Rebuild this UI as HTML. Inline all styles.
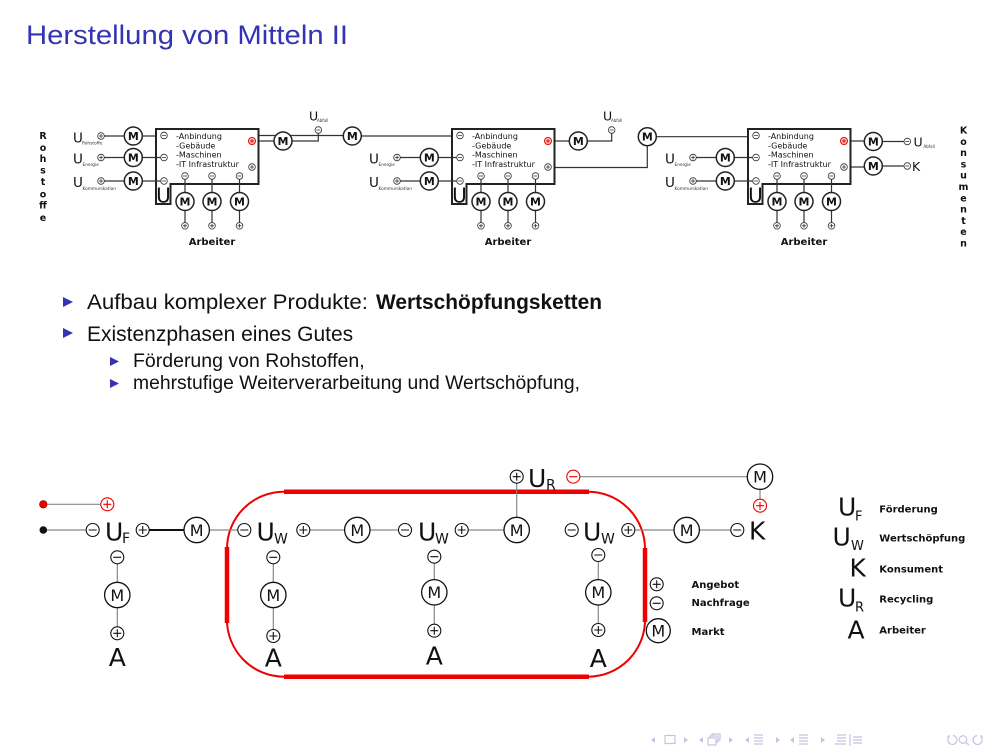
<!DOCTYPE html>
<html>
<head>
<meta charset="utf-8">
<style>
html,body{margin:0;padding:0;background:#fff;}
svg{display:block;}
.d{font-family:"DejaVu Sans","Liberation Sans",sans-serif;}
.l{font-family:"Liberation Sans",sans-serif;}
</style>
</head>
<body>
<svg width="1008" height="756" viewBox="0 0 1008 756" xmlns="http://www.w3.org/2000/svg">
<rect width="1008" height="756" fill="#fff"/>

<!-- Title -->
<text class="l" x="26" y="44" font-size="27" fill="#3333b3" textLength="322" lengthAdjust="spacingAndGlyphs">Herstellung von Mitteln II</text>

<!-- ================= TOP DIAGRAM ================= -->
<g class="d" fill="#111">
<g font-size="9.5" font-weight="bold" text-anchor="middle">
<text x="43" y="139">R</text><text x="43" y="151">o</text><text x="43" y="162">h</text><text x="43" y="173.5">s</text><text x="43" y="185">t</text><text x="43" y="197.5">o</text><text x="43" y="208.5">ff</text><text x="43" y="221">e</text>
</g>
<g font-size="9.5" font-weight="bold" text-anchor="middle">
<text x="963.5" y="133.5">K</text><text x="963.5" y="144.8">o</text><text x="963.5" y="156.1">n</text><text x="963.5" y="167.4">s</text><text x="963.5" y="178.7">u</text><text x="963.5" y="190">m</text><text x="963.5" y="201.3">e</text><text x="963.5" y="212.6">n</text><text x="963.5" y="223.9">t</text><text x="963.5" y="235.2">e</text><text x="963.5" y="246.5">n</text>
</g>
</g>

<g fill="none" stroke="#333" stroke-width="1.2">
<path d="M104.3,136 H124.3 M142.3,136 H160.7"/>
<path d="M255.3,141 H274"/>
<path d="M292,141 H318.3 V133.3"/>
<path d="M255.3,167 H256 V135.5 H343.3"/>
<path d="M361.3,136 H456.7"/>
<path d="M551.3,141 H569.3"/>
<path d="M587.3,141 H611.7 V133.3"/>
<path d="M551.3,167.5 H647.3 V145.7"/>
<path d="M656.3,136.7 H752.7"/>
<path d="M847.3,141 H864.3 M882.3,141.5 H904"/>
<path d="M847.3,167 H864.3 M882.3,166 H904"/>
</g>

<g class="d">
  <path d="M156,129 H258.5 V184 H170.5 V204 H156 Z" fill="#fff" stroke="#222" stroke-width="2"/>
  <text x="163.5" y="202.5" font-size="20" text-anchor="middle" fill="#111">U</text>
  <g font-size="8" fill="#111">
    <text x="176" y="139">-Anbindung</text>
    <text x="176" y="148.5">-Gebäude</text>
    <text x="176" y="157.5">-Maschinen</text>
    <text x="176" y="167">-IT Infrastruktur</text>
  </g>
  <g fill="#fff" stroke="#333" stroke-width="0.8">
    <circle cx="164" cy="135.5" r="3.3"/><circle cx="164" cy="157.5" r="3.3"/><circle cx="164" cy="181" r="3.3"/>
    <circle cx="252" cy="167" r="3.3"/>
    <circle cx="185" cy="176" r="3.3"/><circle cx="212" cy="176" r="3.3"/><circle cx="239.5" cy="176" r="3.3"/>
    <circle cx="185" cy="225.8" r="3.3"/><circle cx="212" cy="225.8" r="3.3"/><circle cx="239.5" cy="225.8" r="3.3"/>
    <circle cx="101" cy="157.5" r="3.3"/><circle cx="101" cy="181" r="3.3"/>
  </g>
  <circle cx="252" cy="141" r="3.5" fill="#fcc" stroke="#e00" stroke-width="1"/>
  <path d="M250,141h4M252,139v4" stroke="#d00" stroke-width="0.9"/>
  <path d="M162,135.5h4M162,157.5h4M162,181h4 M183,176h4M210,176h4M237.5,176h4 M183,225.8h4M185,223.8v4 M210,225.8h4M212,223.8v4 M237.5,225.8h4M239.5,223.8v4 M250,167h4M252,165v4 M99,157.5h4M101,155.5v4 M99,181h4M101,179v4" stroke="#333" stroke-width="0.8" fill="none"/>
  <path d="M185,179.3V192.5 M185,210.5V222.5 M212,179.3V192.5 M212,210.5V222.5 M239.5,179.3V192.5 M239.5,210.5V222.5 M104.3,157.5H124.3 M142.3,157.5H160.7 M104.3,181H124.3 M142.3,181H160.7" stroke="#333" stroke-width="1.2" fill="none"/>
  <g fill="#fff" stroke="#222" stroke-width="1.5">
    <circle cx="185" cy="201.5" r="9"/><circle cx="212" cy="201.5" r="9"/><circle cx="239.5" cy="201.5" r="9"/>
    <circle cx="133.3" cy="157.5" r="9"/><circle cx="133.3" cy="181" r="9"/>
  </g>
  <g font-size="11" font-weight="bold" text-anchor="middle" fill="#111">
    <text x="185" y="205.5">M</text><text x="212" y="205.5">M</text><text x="239.5" y="205.5">M</text>
    <text x="133.3" y="161.5">M</text><text x="133.3" y="185">M</text>
  </g>
  <text x="212" y="245" font-size="10" font-weight="bold" text-anchor="middle" fill="#111">Arbeiter</text>
  <text x="73" y="163.5" font-size="13.5" fill="#111">U</text><text x="82.5" y="166" font-size="4.3" fill="#333">Energie</text>
  <text x="73" y="187" font-size="13.5" fill="#111">U</text><text x="82.5" y="190" font-size="4.3" fill="#333">Kommunikation</text>
</g>
<g transform="translate(296,0)" class="d">
  <path d="M156,129 H258.5 V184 H170.5 V204 H156 Z" fill="#fff" stroke="#222" stroke-width="2"/>
  <text x="163.5" y="202.5" font-size="20" text-anchor="middle" fill="#111">U</text>
  <g font-size="8" fill="#111">
    <text x="176" y="139">-Anbindung</text>
    <text x="176" y="148.5">-Gebäude</text>
    <text x="176" y="157.5">-Maschinen</text>
    <text x="176" y="167">-IT Infrastruktur</text>
  </g>
  <g fill="#fff" stroke="#333" stroke-width="0.8">
    <circle cx="164" cy="135.5" r="3.3"/><circle cx="164" cy="157.5" r="3.3"/><circle cx="164" cy="181" r="3.3"/>
    <circle cx="252" cy="167" r="3.3"/>
    <circle cx="185" cy="176" r="3.3"/><circle cx="212" cy="176" r="3.3"/><circle cx="239.5" cy="176" r="3.3"/>
    <circle cx="185" cy="225.8" r="3.3"/><circle cx="212" cy="225.8" r="3.3"/><circle cx="239.5" cy="225.8" r="3.3"/>
    <circle cx="101" cy="157.5" r="3.3"/><circle cx="101" cy="181" r="3.3"/>
  </g>
  <circle cx="252" cy="141" r="3.5" fill="#fcc" stroke="#e00" stroke-width="1"/>
  <path d="M250,141h4M252,139v4" stroke="#d00" stroke-width="0.9"/>
  <path d="M162,135.5h4M162,157.5h4M162,181h4 M183,176h4M210,176h4M237.5,176h4 M183,225.8h4M185,223.8v4 M210,225.8h4M212,223.8v4 M237.5,225.8h4M239.5,223.8v4 M250,167h4M252,165v4 M99,157.5h4M101,155.5v4 M99,181h4M101,179v4" stroke="#333" stroke-width="0.8" fill="none"/>
  <path d="M185,179.3V192.5 M185,210.5V222.5 M212,179.3V192.5 M212,210.5V222.5 M239.5,179.3V192.5 M239.5,210.5V222.5 M104.3,157.5H124.3 M142.3,157.5H160.7 M104.3,181H124.3 M142.3,181H160.7" stroke="#333" stroke-width="1.2" fill="none"/>
  <g fill="#fff" stroke="#222" stroke-width="1.5">
    <circle cx="185" cy="201.5" r="9"/><circle cx="212" cy="201.5" r="9"/><circle cx="239.5" cy="201.5" r="9"/>
    <circle cx="133.3" cy="157.5" r="9"/><circle cx="133.3" cy="181" r="9"/>
  </g>
  <g font-size="11" font-weight="bold" text-anchor="middle" fill="#111">
    <text x="185" y="205.5">M</text><text x="212" y="205.5">M</text><text x="239.5" y="205.5">M</text>
    <text x="133.3" y="161.5">M</text><text x="133.3" y="185">M</text>
  </g>
  <text x="212" y="245" font-size="10" font-weight="bold" text-anchor="middle" fill="#111">Arbeiter</text>
  <text x="73" y="163.5" font-size="13.5" fill="#111">U</text><text x="82.5" y="166" font-size="4.3" fill="#333">Energie</text>
  <text x="73" y="187" font-size="13.5" fill="#111">U</text><text x="82.5" y="190" font-size="4.3" fill="#333">Kommunikation</text>
</g>
<g transform="translate(592,0)" class="d">
  <path d="M156,129 H258.5 V184 H170.5 V204 H156 Z" fill="#fff" stroke="#222" stroke-width="2"/>
  <text x="163.5" y="202.5" font-size="20" text-anchor="middle" fill="#111">U</text>
  <g font-size="8" fill="#111">
    <text x="176" y="139">-Anbindung</text>
    <text x="176" y="148.5">-Gebäude</text>
    <text x="176" y="157.5">-Maschinen</text>
    <text x="176" y="167">-IT Infrastruktur</text>
  </g>
  <g fill="#fff" stroke="#333" stroke-width="0.8">
    <circle cx="164" cy="135.5" r="3.3"/><circle cx="164" cy="157.5" r="3.3"/><circle cx="164" cy="181" r="3.3"/>
    <circle cx="252" cy="167" r="3.3"/>
    <circle cx="185" cy="176" r="3.3"/><circle cx="212" cy="176" r="3.3"/><circle cx="239.5" cy="176" r="3.3"/>
    <circle cx="185" cy="225.8" r="3.3"/><circle cx="212" cy="225.8" r="3.3"/><circle cx="239.5" cy="225.8" r="3.3"/>
    <circle cx="101" cy="157.5" r="3.3"/><circle cx="101" cy="181" r="3.3"/>
  </g>
  <circle cx="252" cy="141" r="3.5" fill="#fcc" stroke="#e00" stroke-width="1"/>
  <path d="M250,141h4M252,139v4" stroke="#d00" stroke-width="0.9"/>
  <path d="M162,135.5h4M162,157.5h4M162,181h4 M183,176h4M210,176h4M237.5,176h4 M183,225.8h4M185,223.8v4 M210,225.8h4M212,223.8v4 M237.5,225.8h4M239.5,223.8v4 M250,167h4M252,165v4 M99,157.5h4M101,155.5v4 M99,181h4M101,179v4" stroke="#333" stroke-width="0.8" fill="none"/>
  <path d="M185,179.3V192.5 M185,210.5V222.5 M212,179.3V192.5 M212,210.5V222.5 M239.5,179.3V192.5 M239.5,210.5V222.5 M104.3,157.5H124.3 M142.3,157.5H160.7 M104.3,181H124.3 M142.3,181H160.7" stroke="#333" stroke-width="1.2" fill="none"/>
  <g fill="#fff" stroke="#222" stroke-width="1.5">
    <circle cx="185" cy="201.5" r="9"/><circle cx="212" cy="201.5" r="9"/><circle cx="239.5" cy="201.5" r="9"/>
    <circle cx="133.3" cy="157.5" r="9"/><circle cx="133.3" cy="181" r="9"/>
  </g>
  <g font-size="11" font-weight="bold" text-anchor="middle" fill="#111">
    <text x="185" y="205.5">M</text><text x="212" y="205.5">M</text><text x="239.5" y="205.5">M</text>
    <text x="133.3" y="161.5">M</text><text x="133.3" y="185">M</text>
  </g>
  <text x="212" y="245" font-size="10" font-weight="bold" text-anchor="middle" fill="#111">Arbeiter</text>
  <text x="73" y="163.5" font-size="13.5" fill="#111">U</text><text x="82.5" y="166" font-size="4.3" fill="#333">Energie</text>
  <text x="73" y="187" font-size="13.5" fill="#111">U</text><text x="82.5" y="190" font-size="4.3" fill="#333">Kommunikation</text>
</g>

<g class="d">
  <text x="73" y="142.5" font-size="13.5" fill="#111">U</text><text x="82" y="144.5" font-size="4.3" fill="#333">Rohstoffe</text>
  <circle cx="101" cy="136" r="3.3" fill="#fff" stroke="#333" stroke-width="0.8"/>
  <path d="M99,136h4M101,134v4" stroke="#333" stroke-width="0.8"/>
  <g fill="#fff" stroke="#333" stroke-width="0.8">
    <circle cx="318.3" cy="130" r="3.3"/><circle cx="611.7" cy="130" r="3.3"/>
    <circle cx="907.3" cy="141.5" r="3.3"/><circle cx="907.3" cy="166" r="3.3"/>
  </g>
  <path d="M316.3,130h4M609.7,130h4M905.3,141.5h4M905.3,166h4" stroke="#333" stroke-width="0.8"/>
  <g fill="#fff" stroke="#222" stroke-width="1.5">
    <circle cx="133.3" cy="136" r="9"/>
    <circle cx="283" cy="141" r="9"/><circle cx="352.3" cy="136" r="9"/>
    <circle cx="578.3" cy="141" r="9"/><circle cx="647.3" cy="136.7" r="9"/>
    <circle cx="873.3" cy="141.5" r="9"/><circle cx="873.3" cy="166" r="9"/>
  </g>
  <g font-size="11" font-weight="bold" text-anchor="middle" fill="#111">
    <text x="133.3" y="140">M</text>
    <text x="283" y="145">M</text><text x="352.3" y="140">M</text>
    <text x="578.3" y="145">M</text><text x="647.3" y="140.7">M</text>
    <text x="873.3" y="145.5">M</text><text x="873.3" y="170">M</text>
  </g>
  <text x="309" y="120.5" font-size="12.5" fill="#111">U</text><text x="317" y="122" font-size="4" fill="#333">Abfall</text>
  <text x="603" y="120.5" font-size="12.5" fill="#111">U</text><text x="611" y="122" font-size="4" fill="#333">Abfall</text>
  <text x="913.5" y="146.5" font-size="12.5" fill="#111">U</text><text x="923.5" y="148" font-size="4" fill="#333">Abfall</text>
  <text x="912" y="171" font-size="12.5" fill="#111">K</text>
</g>

<!-- ================= BULLETS ================= -->
<g class="l" fill="#111">
  <path d="M63,297 L73,302 L63,307 Z" fill="#3333b3"/>
  <text x="87" y="309" font-size="21" textLength="281" lengthAdjust="spacingAndGlyphs">Aufbau komplexer Produkte:</text>
  <text x="376" y="309" font-size="21" font-weight="bold" textLength="226" lengthAdjust="spacingAndGlyphs">Wertschöpfungsketten</text>
  <path d="M63,328 L73,333 L63,338 Z" fill="#3333b3"/>
  <text x="87" y="341" font-size="21">Existenzphasen eines Gutes</text>
  <path d="M110,357 L119,361.5 L110,366 Z" fill="#3333b3"/>
  <text x="133" y="367" font-size="19.5">Förderung von Rohstoffen,</text>
  <path d="M110,379 L119,383.5 L110,388 Z" fill="#3333b3"/>
  <text x="133" y="389" font-size="19.5" textLength="447" lengthAdjust="spacingAndGlyphs">mehrstufige Weiterverarbeitung und Wertschöpfung,</text>
</g>

<!-- ================= BOTTOM DIAGRAM ================= -->
<rect x="227" y="491.7" width="418" height="185" rx="57" ry="57" fill="none" stroke="#e00" stroke-width="2"/>
<path d="M284,491.7 H589 M284,676.7 H589 M227,547 V623 M645,548 V622" stroke="#e00" stroke-width="4.5" fill="none"/>

<g fill="none" stroke="#888" stroke-width="1.2">
  <path d="M47,504.3 H100.8"/>
  <path d="M47,530 H86.2"/>
  <path d="M209.4,530 H237.8"/>
  <path d="M309.8,530 H344.6 M370,530 H398.5"/>
  <path d="M468.2,530 H504 M516.7,517.3 V483.2"/>
  <path d="M579.8,476.7 H747.3 M760,489.4 V499.2"/>
  <path d="M634.8,530 H674 M699.4,530 H730.8"/>
  <path d="M117.3,563.8 V582.3 M117.3,607.7 V626.8"/>
  <path d="M273.3,563.8 V582.3 M273.3,607.7 V629.5"/>
  <path d="M434.3,563.2 V579.6 M434.3,605 V624.2"/>
  <path d="M598.3,561.5 V579.6 M598.3,605 V623.5"/>
</g>
<path d="M149.2,530 H184" stroke="#111" stroke-width="2" fill="none"/>

<circle cx="43.3" cy="504.3" r="3.8" fill="#e00" stroke="#900" stroke-width="0.6"/>
<circle cx="43.3" cy="530" r="3.8" fill="#111"/>

<g fill="#fff" stroke="#111" stroke-width="1.1">
  <circle cx="92.7" cy="530" r="6.5"/><circle cx="142.7" cy="530" r="6.5"/>
  <circle cx="244.3" cy="530" r="6.5"/><circle cx="303.3" cy="530" r="6.5"/>
  <circle cx="405" cy="530" r="6.5"/><circle cx="461.7" cy="530" r="6.5"/>
  <circle cx="516.7" cy="476.7" r="6.5"/>
  <circle cx="571.7" cy="530" r="6.5"/><circle cx="628.3" cy="530" r="6.5"/>
  <circle cx="737.3" cy="530" r="6.5"/>
  <circle cx="117.3" cy="557.3" r="6.5"/><circle cx="117.3" cy="633.3" r="6.5"/>
  <circle cx="273.3" cy="557.3" r="6.5"/><circle cx="273.3" cy="636" r="6.5"/>
  <circle cx="434.3" cy="556.7" r="6.5"/><circle cx="434.3" cy="630.7" r="6.5"/>
  <circle cx="598.3" cy="555" r="6.5"/><circle cx="598.3" cy="630" r="6.5"/>
  <circle cx="656.7" cy="584.3" r="6.5"/><circle cx="656.7" cy="603.3" r="6.5"/>
</g>
<g stroke="#111" stroke-width="1.1" fill="none">
  <path d="M88.7,530h8 M240.3,530h8 M401,530h8 M567.7,530h8 M733.3,530h8 M113.3,557.3h8 M269.3,557.3h8 M430.3,556.7h8 M594.3,555h8 M652.7,603.3h8"/>
  <path d="M138.7,530h8M142.7,526v8 M299.3,530h8M303.3,526v8 M457.7,530h8M461.7,526v8 M512.7,476.7h8M516.7,472.7v8 M624.3,530h8M628.3,526v8 M113.3,633.3h8M117.3,629.3v8 M269.3,636h8M273.3,632v8 M430.3,630.7h8M434.3,626.7v8 M594.3,630h8M598.3,626v8 M652.7,584.3h8M656.7,580.3v8"/>
</g>
<g fill="#fff" stroke="#e00" stroke-width="1.1">
  <circle cx="107.3" cy="504.3" r="6.5"/>
  <circle cx="573.3" cy="476.7" r="6.5"/>
  <circle cx="760" cy="505.7" r="6.5"/>
</g>
<path d="M103.3,504.3h8M107.3,500.3v8 M569.3,476.7h8 M756,505.7h8M760,501.7v8" stroke="#e00" stroke-width="1.1" fill="none"/>

<g fill="#fff" stroke="#111" stroke-width="1.3">
  <circle cx="196.7" cy="530" r="12.7"/><circle cx="357.3" cy="530" r="12.7"/>
  <circle cx="516.7" cy="530" r="12.7"/><circle cx="686.7" cy="530" r="12.7"/>
  <circle cx="760" cy="476.7" r="12.7"/>
  <circle cx="117.3" cy="595" r="12.7"/><circle cx="273.3" cy="595" r="12.7"/>
  <circle cx="434.3" cy="592.3" r="12.7"/><circle cx="598.3" cy="592.3" r="12.7"/>
  <circle cx="658.3" cy="630.7" r="12"/>
</g>
<g class="d" font-size="16" text-anchor="middle" fill="#111">
  <text x="196.7" y="535.8">M</text><text x="357.3" y="535.8">M</text>
  <text x="516.7" y="535.8">M</text><text x="686.7" y="535.8">M</text>
  <text x="760" y="482.5">M</text>
  <text x="117.3" y="600.8">M</text><text x="273.3" y="600.8">M</text>
  <text x="434.3" y="598.1">M</text><text x="598.3" y="598.1">M</text>
  <text x="658.3" y="636.5">M</text>
</g>

<g class="d" fill="#111">
  <text x="105" y="540.5" font-size="25">U</text><text x="122" y="543" font-size="14">F</text>
  <text x="256.5" y="540.5" font-size="25">U</text><text x="274" y="543.5" font-size="14">W</text>
  <text x="418" y="540.5" font-size="25">U</text><text x="435" y="543.5" font-size="14">W</text>
  <text x="528" y="487" font-size="25">U</text><text x="546" y="489.5" font-size="14">R</text>
  <text x="583" y="540.5" font-size="25">U</text><text x="601" y="543.5" font-size="14">W</text>
  <text x="749" y="539.5" font-size="25">K</text>
  <g font-size="25" text-anchor="middle">
    <text x="117.3" y="666">A</text><text x="273.3" y="666.5">A</text>
    <text x="434.3" y="664.5">A</text><text x="598.3" y="667">A</text>
  </g>
  <g font-size="10" font-weight="bold">
    <text x="691.5" y="588">Angebot</text>
    <text x="691.5" y="606">Nachfrage</text>
    <text x="691.5" y="635">Markt</text>
  </g>
  <text x="838" y="515.7" font-size="25">U</text><text x="855" y="520.5" font-size="13">F</text>
  <text x="832.5" y="545.5" font-size="25">U</text><text x="851" y="550" font-size="13">W</text>
  <text x="849.5" y="576.7" font-size="25">K</text>
  <text x="838" y="606.7" font-size="25">U</text><text x="855" y="611.5" font-size="13">R</text>
  <text x="847.5" y="638.5" font-size="25">A</text>
  <g font-size="10" font-weight="bold">
    <text x="879.3" y="512.5">Förderung</text>
    <text x="879.3" y="541.5">Wertschöpfung</text>
    <text x="879.3" y="572.5">Konsument</text>
    <text x="879.3" y="602.5">Recycling</text>
    <text x="879.3" y="633.3">Arbeiter</text>
  </g>
</g>

<!-- ================= NAV BAR ================= -->
<g fill="#c3c4e3" stroke="none">
  <path d="M655,737 L651,740 L655,743 Z"/>
  <path d="M684,737 L688,740 L684,743 Z"/>
  <path d="M703,737 L699,740 L703,743 Z"/>
  <path d="M729,737 L733,740 L729,743 Z"/>
  <path d="M749,737 L745,740 L749,743 Z"/>
  <path d="M776,737 L780,740 L776,743 Z"/>
  <path d="M794,737 L790,740 L794,743 Z"/>
  <path d="M821,737 L825,740 L821,743 Z"/>
</g>
<g fill="none" stroke="#c3c4e3" stroke-width="1.2">
  <rect x="665" y="735.5" width="10" height="8"/>
  <rect x="708" y="738" width="8" height="7"/>
  <path d="M710,738 V736 H718 V742 H716 M712,736 V734 H720 V740 H718"/>
  <path d="M754,735 H763 M754,738 H763 M754,741 H763 M754,744 H763"/>
  <path d="M799,735 H808 M799,738 H808 M799,741 H808 M799,744 H808"/>
  <path d="M837,735 H846 M837,738 H846 M837,741 H846 M835,744 H846"/>
  <path d="M850,734 V746"/>
  <path d="M853,737 H862 M853,740 H862 M853,743 H862"/>
  <path d="M949,737 A4.5,4.5 0 1 0 953,735.5"/>
  <path d="M947,737 L949,737 L949,735"/>
  <circle cx="963" cy="739.5" r="3.8"/>
  <path d="M966,742.5 L969,745"/>
  <path d="M981,737 A4.5,4.5 0 1 1 977,735.5"/>
  <path d="M983,737 L981,737 L981,735"/>
</g>
</svg>
</body>
</html>
